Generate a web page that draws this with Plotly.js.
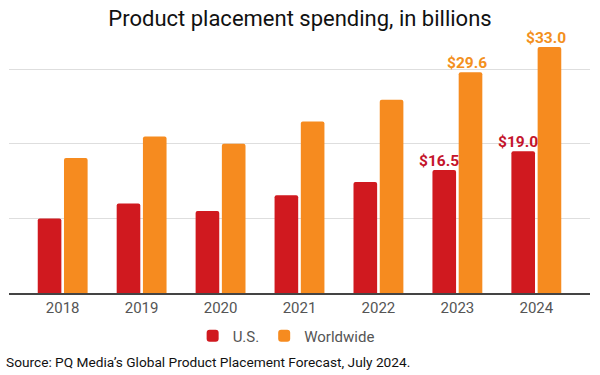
<!DOCTYPE html>
<html>
<head>
<meta charset="utf-8">
<script src="https://cdn.plot.ly/plotly-3.0.1.min.js"></script>
<style>html,body{margin:0;padding:0;background:#fff;}#chart{width:600px;height:375px;}</style>
</head>
<body>
<div id="chart"></div>
<script>
const years = ["2018", "2019", "2020", "2021", "2022", "2023", "2024"];
const usValues = [10.0, 12.0, 11.0, 13.1, 14.9, 16.5, 19.0];
const worldwideValues = [18.1, 21.0, 20.0, 23.0, 25.9, 29.6, 33.0];
const usLabels = ["", "", "", "", "", "$16.5", "$19.0"];
const worldwideLabels = ["", "", "", "", "", "$29.6", "$33.0"];

const red = "#d0191f";
const orange = "#f68b1f";

const traces = [
  {
    type: "bar", name: "U.S.", x: years, y: usValues,
    marker: {color: red, cornerradius: 2},
    hoverinfo: "skip"
  },
  {
    type: "bar", name: "Worldwide", x: years, y: worldwideValues,
    marker: {color: orange, cornerradius: 2},
    hoverinfo: "skip"
  }
];

function labelAnnotations(labels, values, color, shift) {
  const out = [];
  for (let i = 0; i < labels.length; i++) {
    if (!labels[i]) continue;
    out.push({
      text: labels[i], x: i, y: values[i], xref: "x", yref: "y",
      xanchor: "center", yanchor: "bottom", xshift: shift, yshift: -2,
      showarrow: false,
      font: {family: "Roboto", size: 15.5, color: color, weight: "bold"}
    });
  }
  return out;
}

const annotations = labelAnnotations(usLabels, usValues, "#c4142b", -18)
  .concat(labelAnnotations(worldwideLabels, worldwideValues, "#f39020", 10))
  .concat([{text: "Source: PQ Media’s Global Product Placement Forecast, July 2024.", xref: "paper", yref: "paper",
   x: -0.0086, xanchor: "left", y: -0.264, yanchor: "middle", showarrow: false,
   font: {family: "Roboto", size: 13.7, color: "#111"}}]);

const layout = {
  width: 600, height: 375,
  margin: {l: 9, r: 10, t: 32, b: 82},
  paper_bgcolor: "#fff", plot_bgcolor: "#fff",
  font: {family: "Roboto", color: "#555"},
  title: {text: "Product placement spending, in billions", x: 0.5, xanchor: "center", y: 0.952, yanchor: "middle",
          font: {family: "Roboto", size: 22, color: "#111"}},
  barmode: "group", bargap: 0.335, bargroupgap: 0.1,
  xaxis: {type: "category", range: [-0.68, 6.68], showgrid: false, showline: true, linecolor: "#444", linewidth: 1.5,
          ticks: "", tickfont: {family: "Roboto", size: 15, color: "#555"}, fixedrange: true},
  yaxis: {range: [0, 35], dtick: 10, showticklabels: false, showgrid: true, gridcolor: "#dedede", gridwidth: 1,
          zeroline: false, showline: false, fixedrange: true},
  showlegend: true,
  legend: {orientation: "h", x: 0.477, xanchor: "center", y: -0.165, yanchor: "middle",
           font: {family: "Roboto", size: 15, color: "#555"}, itemwidth: 30, traceorder: "normal"},
  annotations: annotations
};

Plotly.newPlot("chart", traces, layout, {displayModeBar: false, staticPlot: true});
</script>
</body>
</html>
